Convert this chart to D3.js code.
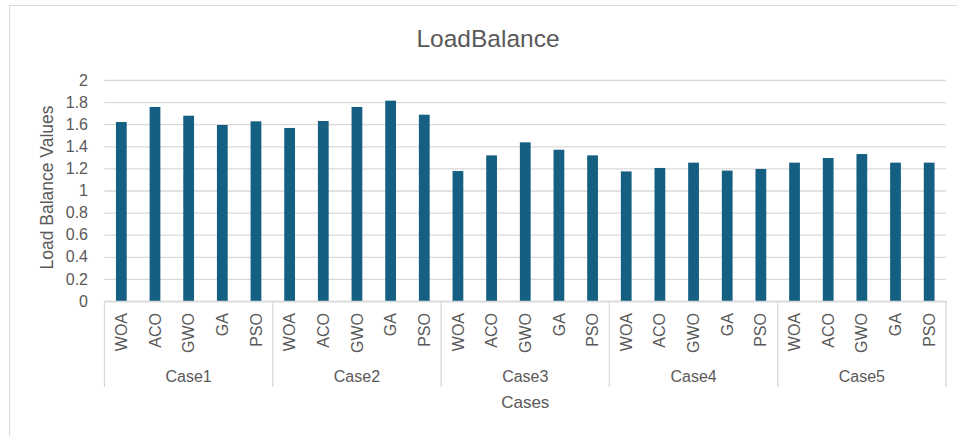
<!DOCTYPE html>
<html>
<head>
<meta charset="utf-8">
<script src="https://cdn.jsdelivr.net/npm/d3@7"></script>
<style>
  html, body { margin: 0; padding: 0; background: #fff; }
  svg { display: block; }
  text { fill: #595959; }
</style>
</head>
<body>
<svg id="chart" width="957" height="436"></svg>
<script>
// Load balance results per test case and algorithm
const cases = ["Case1", "Case2", "Case3", "Case4", "Case5"];
const algorithms = ["WOA", "ACO", "GWO", "GA", "PSO"];
const case1 = [1.62, 1.756, 1.677, 1.593, 1.626];
const case2 = [1.566, 1.629, 1.756, 1.813, 1.686];
const case3 = [1.176, 1.318, 1.436, 1.369, 1.318];
const case4 = [1.173, 1.204, 1.252, 1.18, 1.195];
const case5 = [1.252, 1.294, 1.33, 1.252, 1.252];
const yTicks = [0, 0.2, 0.4, 0.6, 0.8, 1, 1.2, 1.4, 1.6, 1.8, 2];

const seriesByCase = [case1, case2, case3, case4, case5];
const rows = [];
cases.forEach((c, i) => {
  algorithms.forEach((a, j) => {
    rows.push({ key: c + "|" + a, group: c, label: a, value: seriesByCase[i][j] });
  });
});

const svg = d3.select("#chart");
const W = 957, H = 436;
const margin = { left: 104.5, right: 11, top: 80, bottom: 135 };
const plotW = W - margin.left - margin.right;
const plotH = H - margin.top - margin.bottom;
const barColor = "#156082";
const gridColor = "#d9d9d9";
const font = "'Liberation Sans', Arial, sans-serif";

// Outer chart frame
svg.append("rect")
  .attr("x", 9.5).attr("y", 5.5)
  .attr("width", W + 10).attr("height", H + 10)
  .attr("fill", "none").attr("stroke", gridColor).attr("stroke-width", 1);

const x = d3.scaleBand()
  .domain(rows.map(d => d.key))
  .range([0, plotW])
  .paddingInner(0.68)
  .paddingOuter(0.34);

const y = d3.scaleLinear().domain([0, 2]).range([plotH, 0]);

const g = svg.append("g").attr("transform", `translate(${margin.left},${margin.top})`);

// Horizontal gridlines + tick labels
const yAxis = d3.axisLeft(y)
  .tickValues(yTicks)
  .tickFormat(d3.format("~g"))
  .tickSize(-plotW)
  .tickPadding(16.5);
const yg = g.append("g").call(yAxis);
yg.select(".domain").remove();
yg.selectAll(".tick line").attr("stroke", gridColor).attr("stroke-width", 1.3);
yg.selectAll(".tick text")
  .attr("font-family", font).attr("font-size", 16).style("fill", "#595959");

// Bars
g.selectAll("rect.bar")
  .data(rows)
  .join("rect")
  .attr("class", "bar")
  .attr("x", d => x(d.key))
  .attr("y", d => y(d.value))
  .attr("width", x.bandwidth())
  .attr("height", d => y(0) - y(d.value))
  .attr("fill", barColor);

// Category axis with algorithm labels
const xAxis = d3.axisBottom(x).tickSize(0).tickFormat(k => k.split("|")[1]);
const xg = g.append("g").attr("transform", `translate(0,${plotH})`).call(xAxis);
xg.select(".domain").attr("stroke", gridColor).attr("stroke-width", 1.3);
xg.selectAll(".tick text")
  .attr("font-family", font).attr("font-size", 16).style("fill", "#595959")
  .attr("transform", "rotate(-90)")
  .attr("text-anchor", "end")
  .attr("dy", "0.35em")
  .attr("x", -12)
  .attr("y", 0);

// Group separators and case labels
const groupW = plotW / cases.length;
const groupBottom = plotH + 86;
cases.forEach((c, i) => {
  g.append("line")
    .attr("x1", i * groupW).attr("x2", i * groupW)
    .attr("y1", plotH).attr("y2", groupBottom)
    .attr("stroke", gridColor).attr("stroke-width", 1.3);
  g.append("text")
    .attr("x", i * groupW + groupW / 2)
    .attr("y", plotH + 81)
    .attr("text-anchor", "middle")
    .attr("font-family", font).attr("font-size", 16)
    .text(c);
});
g.append("line")
  .attr("x1", plotW).attr("x2", plotW)
  .attr("y1", plotH).attr("y2", groupBottom)
  .attr("stroke", gridColor).attr("stroke-width", 1.3);

// Titles
svg.append("text")
  .attr("x", 488).attr("y", 47)
  .attr("text-anchor", "middle")
  .attr("font-family", font).attr("font-size", 24.5)
  .text("LoadBalance");

svg.append("text")
  .attr("x", margin.left + plotW / 2).attr("y", 408)
  .attr("text-anchor", "middle")
  .attr("font-family", font).attr("font-size", 17)
  .text("Cases");

svg.append("text")
  .attr("transform", `translate(53,187.5) rotate(-90)`)
  .attr("text-anchor", "middle")
  .attr("font-family", font).attr("font-size", 17.5)
  .text("Load Balance Values");
</script>
</body>
</html>
